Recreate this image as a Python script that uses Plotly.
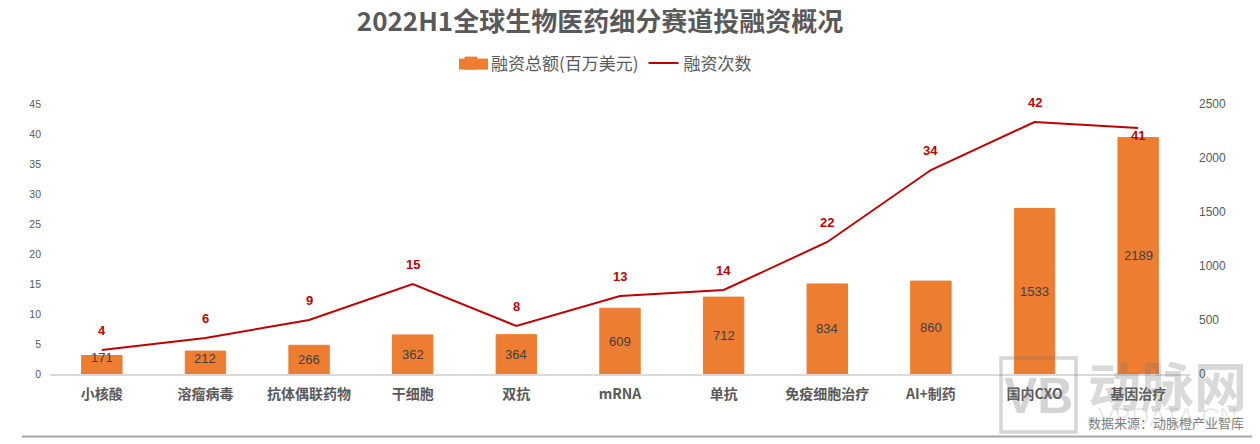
import plotly.graph_objects as go

categories = ["小核酸", "溶瘤病毒", "抗体偶联药物", "干细胞", "双抗", "mRNA", "单抗",
              "免疫细胞治疗", "AI+制药", "国内CXO", "基因治疗"]
amounts = [171, 212, 266, 362, 364, 609, 712, 834, 860, 1533, 2189]
counts = [4, 6, 9, 15, 8, 13, 14, 22, 34, 42, 41]

# 页面 body 默认有 8px 边距, 所以画布比窗口小 8
W, H = 1252, 436
LEFT, TOP, PLOT_W, PLOT_H = 50, 103.5, 1140, 270.5
CJK = "Noto Sans CJK SC"
LATIN = "Liberation Sans"
GREY = "#595959"
RED = "#C00000"
ORANGE = "#ED7D31"


# 截图像素 -> paper 坐标
def px(x):
    return (x - LEFT) / PLOT_W


def py(y):
    return (TOP + PLOT_H - y) / PLOT_H


fig = go.Figure()

fig.add_trace(go.Bar(
    x=categories, y=amounts, name="融资总额(百万美元)",
    marker=dict(color=ORANGE, line=dict(color=ORANGE, width=1)), width=0.39, yaxis="y2",
))
fig.add_trace(go.Scatter(
    x=categories, y=counts, name="融资次数", mode="lines",
    line=dict(color=RED, width=2),
))

# 柱内数字, 前两个柱子太矮, 往上挪一点
for i, (c, v) in enumerate(zip(categories, amounts)):
    shift = {0: 7, 1: 4}.get(i, 0)
    fig.add_annotation(x=c, y=v / 2, yref="y2", text=str(v), showarrow=False, yshift=shift,
                       font=dict(family=LATIN, size=13, color="#404040"))

# 折线标签, 最后一个压在线下面
for c, v in zip(categories, counts):
    shift = -7 if v == 41 else 20
    fig.add_annotation(x=c, y=v, text=str(v), showarrow=False, yshift=shift,
                       font=dict(family=LATIN, size=13, color=RED, weight="bold"))

# 水印
fig.add_annotation(xref="paper", yref="paper", x=px(1038), y=py(396), xanchor="center", yanchor="middle",
                   text="<b>VB</b>", showarrow=False,
                   font=dict(family=LATIN, size=50, color="rgba(120,120,120,0.32)"))
fig.add_annotation(xref="paper", yref="paper", x=px(1167), y=py(384), xanchor="center", yanchor="middle",
                   text="<b>动脉网</b>", showarrow=False,
                   font=dict(family=CJK, size=53, color="rgba(120,120,120,0.28)"))
fig.add_annotation(xref="paper", yref="paper", x=px(1167), y=py(417), xanchor="center", yanchor="middle",
                   text="VBDATA.CN", showarrow=False,
                   font=dict(family=LATIN, size=25, color="rgba(120,120,120,0.16)"))
fig.add_shape(type="rect", xref="paper", yref="paper", x0=px(1001), x1=px(1076), y0=py(432), y1=py(358),
              line=dict(color="rgba(120,120,120,0.30)", width=3.5))

# 数据来源
fig.add_annotation(xref="paper", yref="paper", x=px(1246), y=py(423), xanchor="right", yanchor="middle",
                   text="数据来源：动脉橙产业智库", showarrow=False,
                   font=dict(family=CJK, size=13, color="#7F7F7F"))

# 底部灰线
fig.add_shape(type="line", xref="paper", yref="paper", x0=px(22), x1=px(1260), y0=py(436.5), y1=py(436.5),
              line=dict(color="#A6A6A6", width=2))

# 图例色块比默认的宽
fig.add_shape(type="rect", xref="paper", yref="paper", x0=px(459), x1=px(488), y0=py(69), y1=py(58),
              fillcolor=ORANGE, line_width=0)

fig.update_layout(
    width=W, height=H,
    autosize=False,
    paper_bgcolor="white", plot_bgcolor="white",
    margin=dict(l=LEFT - 8, r=W + 8 - LEFT - PLOT_W, t=TOP - 8, b=H + 8 - TOP - PLOT_H),
    title=dict(text="<b>2022H1全球生物医药细分赛道投融资概况</b>", x=(600 - 8) / W, xanchor="center",
               y=1 - (22 - 8) / H, yanchor="middle", font=dict(family=CJK, size=26, color=GREY)),
    legend=dict(orientation="h", x=px(604), xanchor="center", y=py(63), yanchor="middle",
                bgcolor="rgba(0,0,0,0)",
                font=dict(family=CJK, size=17, color=GREY), traceorder="normal"),
    xaxis=dict(type="category", showgrid=False, showline=True, linecolor="#D9D9D9", linewidth=2,
               ticks="", ticklabelstandoff=6, tickfont=dict(family=CJK, size=14, color=GREY, weight="bold")),
    yaxis=dict(range=[0, 45], dtick=5, showgrid=False, zeroline=False, ticks="", ticklabelstandoff=8,
               tickfont=dict(family=LATIN, size=10.5, color=GREY)),
    yaxis2=dict(range=[0, 2500], dtick=500, overlaying="y", side="right", showgrid=False, zeroline=False,
                ticks="", ticklabelstandoff=8, tickfont=dict(family=LATIN, size=12, color=GREY)),
)

fig.write_html("out.html")
